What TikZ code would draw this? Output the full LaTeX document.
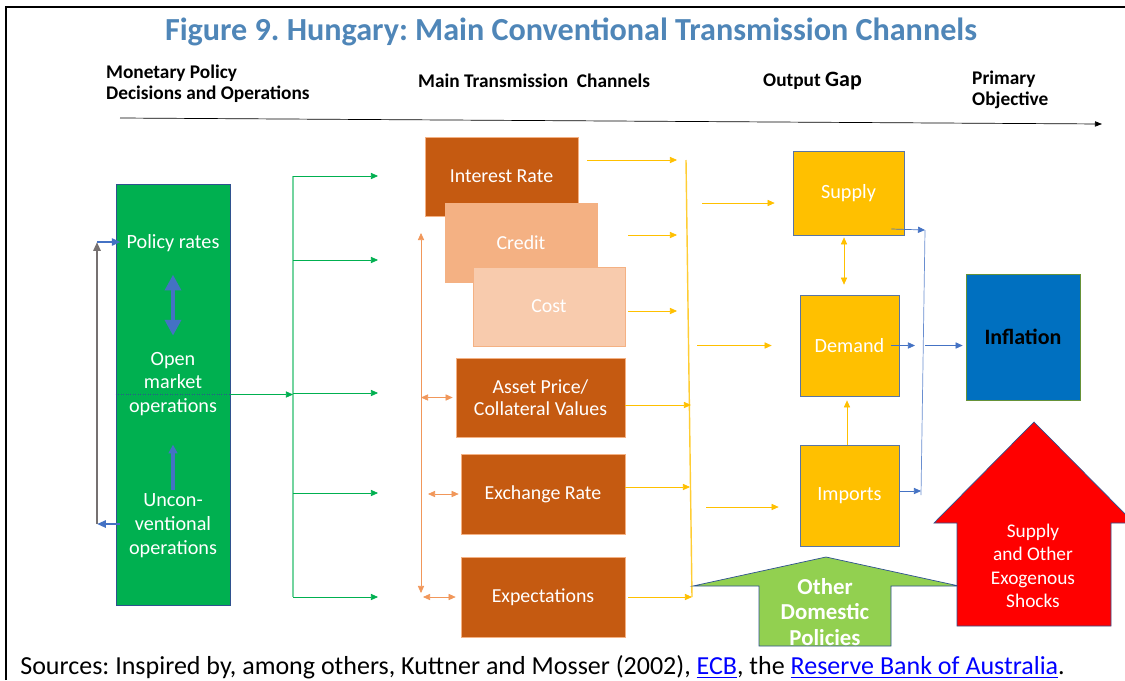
\documentclass[tikz,border=0pt]{standalone}
\usepackage{fontspec}
\setmainfont{Carlito}
\usetikzlibrary{arrows.meta}
\frenchspacing

\definecolor{titleblue}{HTML}{4F86B8}
\definecolor{mktgreen}{HTML}{00B050}
\definecolor{rust}{HTML}{C55A11}
\definecolor{peach}{HTML}{F4B183}
\definecolor{blush}{HTML}{F8CBAD}
\definecolor{tangerine}{HTML}{ED7D31}
\definecolor{amber}{HTML}{FFC000}
\definecolor{cobalt}{HTML}{4472C4}
\definecolor{navyedge}{HTML}{2F528F}
\definecolor{inflblue}{HTML}{0070C0}
\definecolor{leaf}{HTML}{92D050}
\definecolor{slate}{HTML}{767171}
\definecolor{hyper}{HTML}{0000FF}

\tikzset{
	heading/.style={font=\bfseries\fontsize{11}{12}\selectfont,align=left,anchor=west},
	chanbox/.style={fill=rust,draw=tangerine!60,text=white,minimum height=1.58cm,
		font=\fontsize{11.3}{12.5}\selectfont,align=center},
	gapbox/.style={fill=amber,draw=navyedge!80,text=white,font=\fontsize{11.5}{13.5}\selectfont},
	wtext/.style={text=white,align=center,font=\fontsize{11.5}{13.6}\selectfont},
	garrow/.style={mktgreen,-{Triangle[length=4pt,width=3.5pt]}},
	yarrow/.style={amber,-{Triangle[length=4pt,width=3.5pt]}},
	oarrow/.style={tangerine!80,{Triangle[length=4pt,width=3.5pt]}-{Triangle[length=4pt,width=3.5pt]}},
	barrow/.style={cobalt,-{Triangle[length=4pt,width=3.5pt]}},
}

\begin{document}
\begin{tikzpicture}[x=0.02cm,y=-0.02cm]
	\useasboundingbox (0,0) rectangle (1125,680);
	\fill[white] (0,0) rectangle (1125,680);
	\draw[line width=1.2pt] (6,680) -- (6,7) -- (1125,7);

	% headings and time line
	\node[font=\bfseries\fontsize{18.3}{20}\selectfont,text=titleblue] (title) at (571,32) {Figure 9. Hungary: Main Conventional Transmission Channels};
	\node[heading] (hdpol) at (100,84) {Monetary Policy\\Decisions and Operations};
	\node[heading] (hdchan) at (412,81) {Main Transmission~ Channels};
	\node[heading] (hdgap) at (757,81) {Output {\fontsize{12.5}{14}\selectfont Gap}};
	\node[heading] (hdobj) at (966,90) {Primary\\Objective};
	\coordinate (tlA) at (120,118);
	\coordinate (tlB) at (1102,124);
	\draw[thin,-{Triangle[length=4pt,width=3pt]}] (tlA) -- (tlB);

	% policy instruments
	\node[fill=mktgreen,draw=navyedge,minimum width=2.28cm,minimum height=8.42cm] (pol) at (173,394.5) {};
	\node[wtext] (prates) at (173,243) {Policy rates};
	\node[wtext] (omo) at (173,384) {Open\\market\\operations};
	\node[wtext] (unconv) at (173,526) {Uncon-\\ventional\\operations};
	\draw[navyedge,densely dotted] (pol.west) -- (pol.east);
	\draw[cobalt,line width=2.2pt,{Triangle[length=9pt,width=9pt]}-{Triangle[length=9pt,width=9pt]}] ([yshift=-1.82cm]pol.north) -- ([yshift=-3.04cm]pol.north);
	\draw[cobalt,line width=2pt,-{Triangle[length=5pt,width=5pt]}] ([yshift=-6.12cm]pol.north) -- ([yshift=-5.22cm]pol.north);

	\coordinate (loopT) at (97,242);
	\coordinate (loopB) at (97,524);
	\draw[slate,line width=1.3pt,-{Triangle[length=5pt,width=4pt]}] (loopB) -- (loopT);
	\draw[cobalt,line width=1.3pt,-{Triangle[length=5pt,width=4pt]}] (loopT) -- ([xshift=.1cm]loopT -| pol.west);
	\draw[cobalt,line width=1.3pt,-{Triangle[length=5pt,width=4pt]}] ([xshift=.08cm]loopB -| pol.west) -- (loopB);

	% green bus
	\coordinate (gbusT) at (293,176);
	\coordinate (gbusB) at (293,597);
	\draw[mktgreen!55,thick] (gbusT) -- (gbusB);
	\draw[garrow] (pol.east) -- (pol.east -| gbusT);
	\foreach \y [count=\i] in {176,260,393,493,597} {
		\coordinate (gtip\i) at (378,\y);
		\draw[garrow] (gbusT |- gtip\i) -- (gtip\i);
	}

	% channels
	\node[chanbox,minimum width=3.06cm] (irate) at (501.5,176.5) {Interest Rate};
	\node[chanbox,fill=peach,minimum width=3.04cm] (credit) at (521,242.5) {Credit};
	\node[chanbox,fill=blush,minimum width=3.04cm] (cost) at (549,306.5) {Cost};
	\node[chanbox,minimum width=3.38cm] (asset) at (540.5,397.5) {Asset Price/\\Collateral Values};
	\node[chanbox,minimum width=3.28cm,minimum height=1.6cm] (exch) at (543,494) {Exchange Rate};
	\node[chanbox,minimum width=3.28cm,minimum height=1.6cm] (expec) at (543,597) {Expectations};

	\coordinate (ovT) at (421,233);
	\coordinate (ovB) at (421,593);
	\draw[oarrow] (ovB) -- (ovT);
	\draw[oarrow,shorten >=.06cm] (ovT |- asset.west) -- (asset.west);
	\draw[oarrow,shorten <=.14cm,shorten >=.04cm] (ovT |- exch.west) -- (exch.west);
	\draw[oarrow,shorten <=.04cm,shorten >=.1cm] (ovT |- expec.west) -- (expec.west);

	% yellow bus
	\coordinate (ybusT) at (686,160);
	\coordinate (ybusB) at (692,597);
	\draw[amber!80,thick] (ybusT) -- (ybusB);
	\draw[yarrow,shorten <=.18cm,shorten >=.18cm] ([yshift=.33cm]irate.east) -- ([yshift=.33cm]irate.east -| ybusT);
	\draw[yarrow,shorten <=.62cm,shorten >=.18cm] ([yshift=.15cm]credit.east) -- ([yshift=.15cm]credit.east -| ybusT);
	\draw[yarrow,shorten <=.06cm,shorten >=.18cm] ([yshift=-.09cm]cost.east) -- ([yshift=-.09cm]cost.east -| ybusT);
	\draw[yarrow,shorten >=.02cm] ([yshift=-.15cm]asset.east) -- ([yshift=-.15cm]asset.east -| ybusB);
	\draw[yarrow,shorten >=.04cm] ([yshift=.14cm]exch.east) -- ([yshift=.14cm]exch.east -| ybusB);
	\draw[yarrow,shorten <=.06cm] (expec.east) -- (expec.east -| ybusB);

	% output gap
	\node[gapbox,minimum width=2.22cm,minimum height=1.68cm] (supply) at (848.5,193) {Supply};
	\node[gapbox,minimum width=1.98cm,minimum height=2.02cm] (demand) at (849.5,345.5) {Demand};
	\node[gapbox,minimum width=1.98cm,minimum height=2.02cm] (imports) at (849.5,495.5) {Imports};

	\draw[yarrow,shorten <=.32cm,shorten >=.36cm] ([yshift=-.2cm]supply.west -| ybusT) -- ([yshift=-.2cm]supply.west);
	\draw[yarrow,shorten <=.22cm,shorten >=.56cm] (demand.west -| ybusT) -- (demand.west);
	\draw[yarrow,shorten <=.28cm,shorten >=.42cm] ([yshift=-.23cm]imports.west -| ybusB) -- ([yshift=-.23cm]imports.west);
	\draw[yarrow,{Triangle[length=4pt,width=3.5pt]}-{Triangle[length=4pt,width=3.5pt]},shorten <=.04cm,shorten >=.2cm] ([xshift=-.09cm]supply.south) -- ([xshift=-.09cm]supply.south |- demand.north);
	\draw[yarrow,shorten >=.08cm] ([xshift=-.05cm]imports.north) -- ([xshift=-.05cm]demand.south);

	% inflation
	\node[fill=inflblue,draw=leaf!70!black,minimum width=2.28cm,minimum height=2.52cm,
		font=\bfseries\fontsize{12.5}{14}\selectfont] (inflation) at (1023,337) {Inflation};
	\coordinate (bbusT) at (925,230);
	\coordinate (bbusB) at (921,495);
	\draw[cobalt!80] (bbusT) -- (bbusB);
	\draw[barrow] ([xshift=-.26cm,yshift=-.72cm]supply.east) -- (bbusT);
	\draw[barrow,shorten >=.12cm] ([xshift=-.16cm]demand.east) -- (demand.east -| bbusB);
	\draw[barrow] ([yshift=.09cm]imports.east) -- ([yshift=.09cm]imports.east -| bbusB);
	\draw[barrow,shorten >=.06cm] (demand.east -| bbusT) -- (demand.east -| inflation.west);

	% other influences
	\filldraw[fill=leaf,draw=navyedge] (693,586) -- (826,557) -- (959,586) -- (891,586) -- (891,646) -- (759,646) -- (759,586) -- cycle;
	\node[font=\bfseries\fontsize{13}{14.3}\selectfont,text=white,align=center] (otherpol) at (825,612) {Other\\Domestic\\Policies};
	\filldraw[fill=red,draw=navyedge] (934,523) -- (1034,422) -- (1134,523) -- (1111,523) -- (1111,626) -- (957,626) -- (957,523) -- cycle;
	\node[wtext,font=\fontsize{11}{13.4}\selectfont] (shocks) at (1033,566) {Supply\\and Other\\Exogenous\\Shocks};

	\node[anchor=west,inner sep=0pt,font=\fontsize{14.8}{16}\selectfont] (sources) at (20,667) {Sources: Inspired by, among others, Kuttner and Mosser (2002), \textcolor{hyper}{\underline{ECB}}, the \textcolor{hyper}{\underline{Reserve Bank of Australia}}.};
\end{tikzpicture}
\end{document}
